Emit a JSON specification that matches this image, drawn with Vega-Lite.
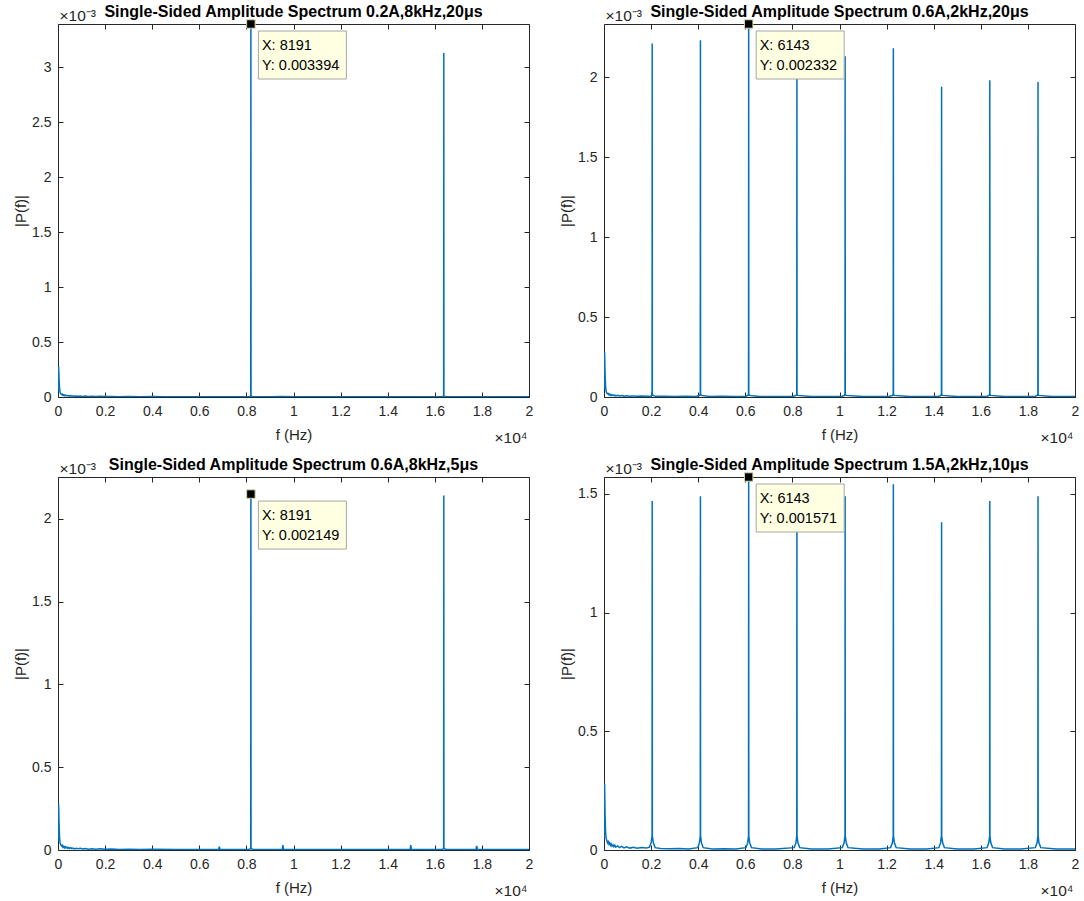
{
  "$schema": "https://vega.github.io/schema/vega-lite/v6.json",
  "background": "#ffffff",
  "padding": {"left": 13, "top": 4, "right": 0, "bottom": 0},
  "datasets": {
    "spectrum": [
      {"p":"A","f":0,"P":0.00005},{"p":"A","f":25,"P":0.00028},{"p":"A","f":45,"P":0.00016},{"p":"A","f":65,"P":0.00008},{"p":"A","f":90,"P":0.00004},{"p":"A","f":120,"P":0.00003},{"p":"A","f":150,"P":0.000022},{"p":"A","f":180,"P":0.000026},{"p":"A","f":210,"P":0.000015},{"p":"A","f":240,"P":0.00002},{"p":"A","f":270,"P":0.000012},{"p":"A","f":300,"P":0.000018},{"p":"A","f":340,"P":0.00001},{"p":"A","f":380,"P":0.000015},{"p":"A","f":420,"P":0.000009},{"p":"A","f":460,"P":0.000013},{"p":"A","f":500,"P":0.000008},{"p":"A","f":540,"P":0.000012},{"p":"A","f":590,"P":0.000007},{"p":"A","f":640,"P":0.000011},{"p":"A","f":700,"P":0.000006},{"p":"A","f":780,"P":0.00001},{"p":"A","f":860,"P":0.000006},{"p":"A","f":950,"P":0.000009},{"p":"A","f":1050,"P":0.000005},{"p":"A","f":1150,"P":0.000008},{"p":"A","f":1300,"P":0.000004},{"p":"A","f":1450,"P":0.000007},{"p":"A","f":1600,"P":0.000004},{"p":"A","f":1800,"P":0.000006},{"p":"A","f":2000,"P":0.000004},{"p":"A","f":2300,"P":0.000005},{"p":"A","f":2600,"P":0.000003},{"p":"A","f":3000,"P":0.000004},{"p":"A","f":3500,"P":0.000003},{"p":"A","f":4000,"P":0.000004},{"p":"A","f":4500,"P":0.000003},{"p":"A","f":5000,"P":0.000003},{"p":"A","f":6000,"P":0.000003},{"p":"A","f":7000,"P":0.000003},{"p":"A","f":8100,"P":0.000003},{"p":"A","f":8185,"P":0.000008},{"p":"A","f":8191,"P":0.003394},{"p":"A","f":8197,"P":0.000008},{"p":"A","f":8300,"P":0.000003},{"p":"A","f":9000,"P":0.000003},{"p":"A","f":9500,"P":0.000005},{"p":"A","f":10000,"P":0.000003},{"p":"A","f":12000,"P":0.000003},{"p":"A","f":14000,"P":0.000003},{"p":"A","f":16300,"P":0.000003},{"p":"A","f":16376,"P":0.000008},{"p":"A","f":16382,"P":0.00313},{"p":"A","f":16388,"P":0.000008},{"p":"A","f":16500,"P":0.000003},{"p":"A","f":18000,"P":0.000003},{"p":"A","f":20000,"P":0.000003},

      {"p":"B","f":0,"P":0.00005},{"p":"B","f":25,"P":0.00028},{"p":"B","f":45,"P":0.00015},{"p":"B","f":65,"P":0.00007},{"p":"B","f":90,"P":0.000035},{"p":"B","f":120,"P":0.000025},{"p":"B","f":150,"P":0.00002},{"p":"B","f":180,"P":0.000022},{"p":"B","f":210,"P":0.000014},{"p":"B","f":240,"P":0.000018},{"p":"B","f":270,"P":0.000011},{"p":"B","f":300,"P":0.000015},{"p":"B","f":340,"P":0.000009},{"p":"B","f":380,"P":0.000013},{"p":"B","f":420,"P":0.000008},{"p":"B","f":460,"P":0.000011},{"p":"B","f":500,"P":0.000007},{"p":"B","f":580,"P":0.00001},{"p":"B","f":660,"P":0.000006},{"p":"B","f":750,"P":0.000009},{"p":"B","f":850,"P":0.000005},{"p":"B","f":950,"P":0.000008},{"p":"B","f":1100,"P":0.000005},{"p":"B","f":1250,"P":0.000007},{"p":"B","f":1400,"P":0.000004},{"p":"B","f":1600,"P":0.000006},{"p":"B","f":1800,"P":0.000004},{"p":"B","f":2000,"P":0.000006},{"p":"B","f":2017,"P":0.00001},{"p":"B","f":2041,"P":0.00002},{"p":"B","f":2047,"P":0.00221},{"p":"B","f":2053,"P":0.00002},{"p":"B","f":2077,"P":0.00001},{"p":"B","f":2200,"P":0.000004},{"p":"B","f":2600,"P":0.000005},{"p":"B","f":3000,"P":0.000003},{"p":"B","f":3500,"P":0.000004},{"p":"B","f":3900,"P":0.000003},{"p":"B","f":4065,"P":0.00001},{"p":"B","f":4089,"P":0.00002},{"p":"B","f":4095,"P":0.00223},{"p":"B","f":4101,"P":0.00002},{"p":"B","f":4125,"P":0.00001},{"p":"B","f":4500,"P":0.000003},{"p":"B","f":5000,"P":0.000004},{"p":"B","f":5500,"P":0.000003},{"p":"B","f":6000,"P":0.000003},{"p":"B","f":6113,"P":0.00001},{"p":"B","f":6137,"P":0.00002},{"p":"B","f":6143,"P":0.002332},{"p":"B","f":6149,"P":0.00002},{"p":"B","f":6173,"P":0.00001},{"p":"B","f":6600,"P":0.000003},{"p":"B","f":7200,"P":0.000003},{"p":"B","f":8000,"P":0.000003},{"p":"B","f":8161,"P":0.00001},{"p":"B","f":8185,"P":0.00002},{"p":"B","f":8191,"P":0.00224},{"p":"B","f":8197,"P":0.00002},{"p":"B","f":8221,"P":0.00001},{"p":"B","f":8800,"P":0.000003},{"p":"B","f":9500,"P":0.000003},{"p":"B","f":10100,"P":0.000003},{"p":"B","f":10209,"P":0.00001},{"p":"B","f":10233,"P":0.00002},{"p":"B","f":10239,"P":0.00213},{"p":"B","f":10245,"P":0.00002},{"p":"B","f":10269,"P":0.00001},{"p":"B","f":11000,"P":0.000003},{"p":"B","f":12100,"P":0.000003},{"p":"B","f":12257,"P":0.00001},{"p":"B","f":12281,"P":0.00002},{"p":"B","f":12287,"P":0.00218},{"p":"B","f":12293,"P":0.00002},{"p":"B","f":12317,"P":0.00001},{"p":"B","f":13000,"P":0.000003},{"p":"B","f":14200,"P":0.000003},{"p":"B","f":14305,"P":0.00001},{"p":"B","f":14329,"P":0.00002},{"p":"B","f":14335,"P":0.00194},{"p":"B","f":14341,"P":0.00002},{"p":"B","f":14365,"P":0.00001},{"p":"B","f":15000,"P":0.000003},{"p":"B","f":16250,"P":0.000003},{"p":"B","f":16352,"P":0.00001},{"p":"B","f":16376,"P":0.00002},{"p":"B","f":16382,"P":0.00198},{"p":"B","f":16388,"P":0.00002},{"p":"B","f":16412,"P":0.00001},{"p":"B","f":17000,"P":0.000003},{"p":"B","f":18300,"P":0.000003},{"p":"B","f":18400,"P":0.00001},{"p":"B","f":18424,"P":0.00002},{"p":"B","f":18430,"P":0.00197},{"p":"B","f":18436,"P":0.00002},{"p":"B","f":18460,"P":0.00001},{"p":"B","f":19000,"P":0.000003},{"p":"B","f":20000,"P":0.000003},

      {"p":"C","f":0,"P":0.00005},{"p":"C","f":25,"P":0.00028},{"p":"C","f":45,"P":0.00016},{"p":"C","f":65,"P":0.00008},{"p":"C","f":90,"P":0.00004},{"p":"C","f":120,"P":0.000032},{"p":"C","f":150,"P":0.000024},{"p":"C","f":180,"P":0.000028},{"p":"C","f":210,"P":0.000017},{"p":"C","f":240,"P":0.000022},{"p":"C","f":270,"P":0.000013},{"p":"C","f":300,"P":0.00002},{"p":"C","f":340,"P":0.000012},{"p":"C","f":380,"P":0.000017},{"p":"C","f":420,"P":0.00001},{"p":"C","f":460,"P":0.000015},{"p":"C","f":500,"P":0.000009},{"p":"C","f":540,"P":0.000014},{"p":"C","f":590,"P":0.000008},{"p":"C","f":640,"P":0.000012},{"p":"C","f":700,"P":0.000007},{"p":"C","f":780,"P":0.000011},{"p":"C","f":860,"P":0.000007},{"p":"C","f":950,"P":0.00001},{"p":"C","f":1050,"P":0.000006},{"p":"C","f":1150,"P":0.000009},{"p":"C","f":1300,"P":0.000005},{"p":"C","f":1450,"P":0.000008},{"p":"C","f":1600,"P":0.000005},{"p":"C","f":1800,"P":0.000007},{"p":"C","f":2000,"P":0.000004},{"p":"C","f":2300,"P":0.000006},{"p":"C","f":2600,"P":0.000003},{"p":"C","f":3000,"P":0.000004},{"p":"C","f":3500,"P":0.000003},{"p":"C","f":4000,"P":0.000004},{"p":"C","f":5000,"P":0.000003},{"p":"C","f":6000,"P":0.000003},{"p":"C","f":6820,"P":0.000003},{"p":"C","f":6850,"P":0.00002},{"p":"C","f":6880,"P":0.000003},{"p":"C","f":8100,"P":0.000003},{"p":"C","f":8185,"P":0.000008},{"p":"C","f":8191,"P":0.002149},{"p":"C","f":8197,"P":0.000008},{"p":"C","f":8300,"P":0.000003},{"p":"C","f":9520,"P":0.000003},{"p":"C","f":9550,"P":0.00003},{"p":"C","f":9580,"P":0.000003},{"p":"C","f":11000,"P":0.000003},{"p":"C","f":13000,"P":0.000003},{"p":"C","f":14950,"P":0.000003},{"p":"C","f":14980,"P":0.00003},{"p":"C","f":15010,"P":0.000003},{"p":"C","f":16300,"P":0.000003},{"p":"C","f":16376,"P":0.000008},{"p":"C","f":16382,"P":0.00214},{"p":"C","f":16388,"P":0.000008},{"p":"C","f":16500,"P":0.000003},{"p":"C","f":17750,"P":0.000003},{"p":"C","f":17780,"P":0.000025},{"p":"C","f":17810,"P":0.000003},{"p":"C","f":20000,"P":0.000003},

      {"p":"D","f":0,"P":0.00005},{"p":"D","f":25,"P":0.00028},{"p":"D","f":45,"P":0.00015},{"p":"D","f":65,"P":0.00008},{"p":"D","f":90,"P":0.00005},{"p":"D","f":120,"P":0.00004},{"p":"D","f":150,"P":0.00003},{"p":"D","f":180,"P":0.000035},{"p":"D","f":210,"P":0.000025},{"p":"D","f":240,"P":0.00003},{"p":"D","f":270,"P":0.00002},{"p":"D","f":300,"P":0.000026},{"p":"D","f":340,"P":0.000016},{"p":"D","f":380,"P":0.000022},{"p":"D","f":420,"P":0.000014},{"p":"D","f":460,"P":0.00002},{"p":"D","f":500,"P":0.000012},{"p":"D","f":580,"P":0.000017},{"p":"D","f":660,"P":0.00001},{"p":"D","f":750,"P":0.000015},{"p":"D","f":850,"P":0.000009},{"p":"D","f":950,"P":0.000013},{"p":"D","f":1100,"P":0.000008},{"p":"D","f":1250,"P":0.000011},{"p":"D","f":1400,"P":0.000007},{"p":"D","f":1600,"P":0.00001},{"p":"D","f":1800,"P":0.000008},{"p":"D","f":1930,"P":0.000012},{"p":"D","f":2000,"P":0.00003},{"p":"D","f":2041,"P":0.00006},{"p":"D","f":2047,"P":0.00147},{"p":"D","f":2053,"P":0.00006},{"p":"D","f":2095,"P":0.00003},{"p":"D","f":2170,"P":0.00001},{"p":"D","f":2400,"P":0.000006},{"p":"D","f":2800,"P":0.000005},{"p":"D","f":3200,"P":0.000006},{"p":"D","f":3600,"P":0.000004},{"p":"D","f":3980,"P":0.00001},{"p":"D","f":4050,"P":0.00003},{"p":"D","f":4089,"P":0.00006},{"p":"D","f":4095,"P":0.00149},{"p":"D","f":4101,"P":0.00006},{"p":"D","f":4140,"P":0.00003},{"p":"D","f":4210,"P":0.00001},{"p":"D","f":4600,"P":0.000004},{"p":"D","f":5100,"P":0.000005},{"p":"D","f":5600,"P":0.000004},{"p":"D","f":6030,"P":0.00001},{"p":"D","f":6100,"P":0.00003},{"p":"D","f":6137,"P":0.00006},{"p":"D","f":6143,"P":0.001571},{"p":"D","f":6149,"P":0.00006},{"p":"D","f":6185,"P":0.00003},{"p":"D","f":6260,"P":0.00001},{"p":"D","f":6700,"P":0.000004},{"p":"D","f":7300,"P":0.000004},{"p":"D","f":8075,"P":0.00001},{"p":"D","f":8150,"P":0.00003},{"p":"D","f":8185,"P":0.00006},{"p":"D","f":8191,"P":0.00145},{"p":"D","f":8197,"P":0.00006},{"p":"D","f":8235,"P":0.00003},{"p":"D","f":8310,"P":0.00001},{"p":"D","f":8800,"P":0.000004},{"p":"D","f":9500,"P":0.000004},{"p":"D","f":10120,"P":0.00001},{"p":"D","f":10195,"P":0.00003},{"p":"D","f":10233,"P":0.00006},{"p":"D","f":10239,"P":0.00149},{"p":"D","f":10245,"P":0.00006},{"p":"D","f":10285,"P":0.00003},{"p":"D","f":10360,"P":0.00001},{"p":"D","f":11000,"P":0.000004},{"p":"D","f":11700,"P":0.000004},{"p":"D","f":12170,"P":0.00001},{"p":"D","f":12245,"P":0.00003},{"p":"D","f":12281,"P":0.00006},{"p":"D","f":12287,"P":0.00154},{"p":"D","f":12293,"P":0.00006},{"p":"D","f":12330,"P":0.00003},{"p":"D","f":12405,"P":0.00001},{"p":"D","f":13000,"P":0.000004},{"p":"D","f":13700,"P":0.000004},{"p":"D","f":14220,"P":0.00001},{"p":"D","f":14290,"P":0.00003},{"p":"D","f":14329,"P":0.00006},{"p":"D","f":14335,"P":0.00138},{"p":"D","f":14341,"P":0.00006},{"p":"D","f":14380,"P":0.00003},{"p":"D","f":14455,"P":0.00001},{"p":"D","f":15000,"P":0.000004},{"p":"D","f":15700,"P":0.000004},{"p":"D","f":16265,"P":0.00001},{"p":"D","f":16340,"P":0.00003},{"p":"D","f":16376,"P":0.00006},{"p":"D","f":16382,"P":0.00147},{"p":"D","f":16388,"P":0.00006},{"p":"D","f":16425,"P":0.00003},{"p":"D","f":16500,"P":0.00001},{"p":"D","f":17000,"P":0.000004},{"p":"D","f":17700,"P":0.000004},{"p":"D","f":18315,"P":0.00001},{"p":"D","f":18390,"P":0.00003},{"p":"D","f":18424,"P":0.00006},{"p":"D","f":18430,"P":0.00149},{"p":"D","f":18436,"P":0.00006},{"p":"D","f":18470,"P":0.00003},{"p":"D","f":18545,"P":0.00001},{"p":"D","f":19200,"P":0.000004},{"p":"D","f":20000,"P":0.000004}
    ],
    "tips": [
      {"p":"A","f":8191,"P":0.003394},
      {"p":"B","f":6143,"P":0.002332},
      {"p":"C","f":8191,"P":0.002149},
      {"p":"D","f":6143,"P":0.001571}
    ]
  },
  "bounds": "flush",
  "columns": 2,
  "spacing": {"row": 80, "column": 75},
  "concat": [
    {
      "width": 471, "height": 373,
      "title": {"text": "Single-Sided Amplitude Spectrum 0.2A,8kHz,20μs"},
      "layer": [
        {
          "data": {"name": "spectrum"},
          "transform": [{"filter": "datum.p === 'A'"}],
          "mark": {"type": "line", "color": "#0072BD", "strokeWidth": 1.5, "clip": true},
          "encoding": {
            "x": {"field": "f", "type": "quantitative", "scale": {"domain": [0, 20000], "nice": false, "zero": false},
                  "axis": {"orient": "bottom", "values": [0,2000,4000,6000,8000,10000,12000,14000,16000,18000,20000], "labelExpr": "datum.value / 10000", "labelPadding": 12, "title": "f (Hz)", "titleX": 235.5, "titleY": 42, "titleAlign": "center", "titleBaseline": "alphabetic"}},
            "y": {"field": "P", "type": "quantitative", "scale": {"domain": [0, 0.003394], "nice": false},
                  "axis": {"orient": "left", "values": [0,0.0005,0.001,0.0015,0.002,0.0025,0.003], "labelExpr": "round(datum.value * 10000) / 10", "labelPadding": 12, "title": "|P(f)|", "titleAngle": 270, "titleX": -33, "titleY": 186.5, "titleAlign": "center", "titleBaseline": "alphabetic"}}
          }
        },
        {
          "data": {"name": "tips"},
          "transform": [{"filter": "datum.p === 'A'"}],
          "mark": {"type": "point", "shape": "M0.75,0.7H9.55V5.5H0.75Z", "size": 400, "filled": true, "fill": "#FFFFE1", "stroke": "#A6A6A6", "strokeWidth": 1, "opacity": 1},
          "encoding": {
            "x": {"field": "f", "type": "quantitative", "scale": {"domain": [0, 20000], "nice": false, "zero": false},
                  "axis": {"orient": "top", "values": [0,2000,4000,6000,8000,10000,12000,14000,16000,18000,20000], "labels": false, "title": "×10⁴", "titleX": 469, "titleY": 418, "titleAlign": "right", "titleBaseline": "alphabetic", "titleFontSize": 15.5}},
            "y": {"field": "P", "type": "quantitative", "scale": {"domain": [0, 0.003394], "nice": false},
                  "axis": {"orient": "right", "values": [0,0.0005,0.001,0.0015,0.002,0.0025,0.003], "labels": false, "title": "×10⁻³", "titleAngle": 0, "titleX": -470, "titleY": -4, "titleAlign": "left", "titleBaseline": "alphabetic", "titleFontSize": 15.5}}
          }
        },
        {
          "data": {"name": "tips"},
          "transform": [{"filter": "datum.p === 'A'"}],
          "mark": {"type": "point", "shape": "square", "size": 72, "filled": true, "fill": "#000000", "stroke": "#D8D8B0", "strokeWidth": 1, "opacity": 1},
          "encoding": {
            "x": {"field": "f", "type": "quantitative", "scale": {"domain": [0, 20000], "nice": false, "zero": false}, "axis": null},
            "y": {"field": "P", "type": "quantitative", "scale": {"domain": [0, 0.003394], "nice": false}, "axis": null}
          }
        },
        {
          "data": {"name": "tips"},
          "transform": [{"filter": "datum.p === 'A'"}, {"calculate": "'X: ' + datum.f", "as": "xl"}, {"calculate": "'Y: ' + format(datum.P, '.6f')", "as": "yl"}],
          "layer": [
            {"mark": {"type": "text", "align": "left", "baseline": "middle", "dx": 11, "dy": 22, "fontSize": 14.5, "font": "Liberation Sans", "color": "#000000"},
             "encoding": {"x": {"field": "f", "type": "quantitative", "scale": {"domain": [0, 20000], "nice": false, "zero": false}, "axis": null}, "y": {"field": "P", "type": "quantitative", "scale": {"domain": [0, 0.003394], "nice": false}, "axis": null}, "text": {"field": "xl"}}},
            {"mark": {"type": "text", "align": "left", "baseline": "middle", "dx": 11, "dy": 42, "fontSize": 14.5, "font": "Liberation Sans", "color": "#000000"},
             "encoding": {"x": {"field": "f", "type": "quantitative", "scale": {"domain": [0, 20000], "nice": false, "zero": false}, "axis": null}, "y": {"field": "P", "type": "quantitative", "scale": {"domain": [0, 0.003394], "nice": false}, "axis": null}, "text": {"field": "yl"}}}
          ]
        }
      ],
      "resolve": {"axis": {"x": "independent", "y": "independent"}}
    },
    {
      "width": 471, "height": 373,
      "title": {"text": "Single-Sided Amplitude Spectrum 0.6A,2kHz,20μs"},
      "layer": [
        {
          "data": {"name": "spectrum"},
          "transform": [{"filter": "datum.p === 'B'"}],
          "mark": {"type": "line", "color": "#0072BD", "strokeWidth": 1.5, "clip": true},
          "encoding": {
            "x": {"field": "f", "type": "quantitative", "scale": {"domain": [0, 20000], "nice": false, "zero": false},
                  "axis": {"orient": "bottom", "values": [0,2000,4000,6000,8000,10000,12000,14000,16000,18000,20000], "labelExpr": "datum.value / 10000", "labelPadding": 12, "title": "f (Hz)", "titleX": 235.5, "titleY": 42, "titleAlign": "center", "titleBaseline": "alphabetic"}},
            "y": {"field": "P", "type": "quantitative", "scale": {"domain": [0, 0.002332], "nice": false},
                  "axis": {"orient": "left", "values": [0,0.0005,0.001,0.0015,0.002], "labelExpr": "round(datum.value * 10000) / 10", "labelPadding": 12, "title": "|P(f)|", "titleAngle": 270, "titleX": -33, "titleY": 186.5, "titleAlign": "center", "titleBaseline": "alphabetic"}}
          }
        },
        {
          "data": {"name": "tips"},
          "transform": [{"filter": "datum.p === 'B'"}],
          "mark": {"type": "point", "shape": "M0.75,0.7H9.55V5.5H0.75Z", "size": 400, "filled": true, "fill": "#FFFFE1", "stroke": "#A6A6A6", "strokeWidth": 1, "opacity": 1},
          "encoding": {
            "x": {"field": "f", "type": "quantitative", "scale": {"domain": [0, 20000], "nice": false, "zero": false},
                  "axis": {"orient": "top", "values": [0,2000,4000,6000,8000,10000,12000,14000,16000,18000,20000], "labels": false, "title": "×10⁴", "titleX": 469, "titleY": 418, "titleAlign": "right", "titleBaseline": "alphabetic", "titleFontSize": 15.5}},
            "y": {"field": "P", "type": "quantitative", "scale": {"domain": [0, 0.002332], "nice": false},
                  "axis": {"orient": "right", "values": [0,0.0005,0.001,0.0015,0.002], "labels": false, "title": "×10⁻³", "titleAngle": 0, "titleX": -470, "titleY": -4, "titleAlign": "left", "titleBaseline": "alphabetic", "titleFontSize": 15.5}}
          }
        },
        {
          "data": {"name": "tips"},
          "transform": [{"filter": "datum.p === 'B'"}],
          "mark": {"type": "point", "shape": "square", "size": 72, "filled": true, "fill": "#000000", "stroke": "#D8D8B0", "strokeWidth": 1, "opacity": 1},
          "encoding": {
            "x": {"field": "f", "type": "quantitative", "scale": {"domain": [0, 20000], "nice": false, "zero": false}, "axis": null},
            "y": {"field": "P", "type": "quantitative", "scale": {"domain": [0, 0.002332], "nice": false}, "axis": null}
          }
        },
        {
          "data": {"name": "tips"},
          "transform": [{"filter": "datum.p === 'B'"}, {"calculate": "'X: ' + datum.f", "as": "xl"}, {"calculate": "'Y: ' + format(datum.P, '.6f')", "as": "yl"}],
          "layer": [
            {"mark": {"type": "text", "align": "left", "baseline": "middle", "dx": 11, "dy": 22, "fontSize": 14.5, "font": "Liberation Sans", "color": "#000000"},
             "encoding": {"x": {"field": "f", "type": "quantitative", "scale": {"domain": [0, 20000], "nice": false, "zero": false}, "axis": null}, "y": {"field": "P", "type": "quantitative", "scale": {"domain": [0, 0.002332], "nice": false}, "axis": null}, "text": {"field": "xl"}}},
            {"mark": {"type": "text", "align": "left", "baseline": "middle", "dx": 11, "dy": 42, "fontSize": 14.5, "font": "Liberation Sans", "color": "#000000"},
             "encoding": {"x": {"field": "f", "type": "quantitative", "scale": {"domain": [0, 20000], "nice": false, "zero": false}, "axis": null}, "y": {"field": "P", "type": "quantitative", "scale": {"domain": [0, 0.002332], "nice": false}, "axis": null}, "text": {"field": "yl"}}}
          ]
        }
      ],
      "resolve": {"axis": {"x": "independent", "y": "independent"}}
    },
    {
      "width": 471, "height": 373,
      "title": {"text": "Single-Sided Amplitude Spectrum 0.6A,8kHz,5μs"},
      "layer": [
        {
          "data": {"name": "spectrum"},
          "transform": [{"filter": "datum.p === 'C'"}],
          "mark": {"type": "line", "color": "#0072BD", "strokeWidth": 1.5, "clip": true},
          "encoding": {
            "x": {"field": "f", "type": "quantitative", "scale": {"domain": [0, 20000], "nice": false, "zero": false},
                  "axis": {"orient": "bottom", "values": [0,2000,4000,6000,8000,10000,12000,14000,16000,18000,20000], "labelExpr": "datum.value / 10000", "labelPadding": 12, "title": "f (Hz)", "titleX": 235.5, "titleY": 42, "titleAlign": "center", "titleBaseline": "alphabetic"}},
            "y": {"field": "P", "type": "quantitative", "scale": {"domain": [0, 0.002252], "nice": false},
                  "axis": {"orient": "left", "values": [0,0.0005,0.001,0.0015,0.002], "labelExpr": "round(datum.value * 10000) / 10", "labelPadding": 12, "title": "|P(f)|", "titleAngle": 270, "titleX": -33, "titleY": 186.5, "titleAlign": "center", "titleBaseline": "alphabetic"}}
          }
        },
        {
          "data": {"name": "tips"},
          "transform": [{"filter": "datum.p === 'C'"}],
          "mark": {"type": "point", "shape": "M0.75,0.7H9.55V5.5H0.75Z", "size": 400, "filled": true, "fill": "#FFFFE1", "stroke": "#A6A6A6", "strokeWidth": 1, "opacity": 1},
          "encoding": {
            "x": {"field": "f", "type": "quantitative", "scale": {"domain": [0, 20000], "nice": false, "zero": false},
                  "axis": {"orient": "top", "values": [0,2000,4000,6000,8000,10000,12000,14000,16000,18000,20000], "labels": false, "title": "×10⁴", "titleX": 469, "titleY": 418, "titleAlign": "right", "titleBaseline": "alphabetic", "titleFontSize": 15.5}},
            "y": {"field": "P", "type": "quantitative", "scale": {"domain": [0, 0.002252], "nice": false},
                  "axis": {"orient": "right", "values": [0,0.0005,0.001,0.0015,0.002], "labels": false, "title": "×10⁻³", "titleAngle": 0, "titleX": -470, "titleY": -4, "titleAlign": "left", "titleBaseline": "alphabetic", "titleFontSize": 15.5}}
          }
        },
        {
          "data": {"name": "tips"},
          "transform": [{"filter": "datum.p === 'C'"}],
          "mark": {"type": "point", "shape": "square", "size": 72, "filled": true, "fill": "#000000", "stroke": "#D8D8B0", "strokeWidth": 1, "opacity": 1},
          "encoding": {
            "x": {"field": "f", "type": "quantitative", "scale": {"domain": [0, 20000], "nice": false, "zero": false}, "axis": null},
            "y": {"field": "P", "type": "quantitative", "scale": {"domain": [0, 0.002252], "nice": false}, "axis": null}
          }
        },
        {
          "data": {"name": "tips"},
          "transform": [{"filter": "datum.p === 'C'"}, {"calculate": "'X: ' + datum.f", "as": "xl"}, {"calculate": "'Y: ' + format(datum.P, '.6f')", "as": "yl"}],
          "layer": [
            {"mark": {"type": "text", "align": "left", "baseline": "middle", "dx": 11, "dy": 22, "fontSize": 14.5, "font": "Liberation Sans", "color": "#000000"},
             "encoding": {"x": {"field": "f", "type": "quantitative", "scale": {"domain": [0, 20000], "nice": false, "zero": false}, "axis": null}, "y": {"field": "P", "type": "quantitative", "scale": {"domain": [0, 0.002252], "nice": false}, "axis": null}, "text": {"field": "xl"}}},
            {"mark": {"type": "text", "align": "left", "baseline": "middle", "dx": 11, "dy": 42, "fontSize": 14.5, "font": "Liberation Sans", "color": "#000000"},
             "encoding": {"x": {"field": "f", "type": "quantitative", "scale": {"domain": [0, 20000], "nice": false, "zero": false}, "axis": null}, "y": {"field": "P", "type": "quantitative", "scale": {"domain": [0, 0.002252], "nice": false}, "axis": null}, "text": {"field": "yl"}}}
          ]
        }
      ],
      "resolve": {"axis": {"x": "independent", "y": "independent"}}
    },
    {
      "width": 471, "height": 373,
      "title": {"text": "Single-Sided Amplitude Spectrum 1.5A,2kHz,10μs"},
      "layer": [
        {
          "data": {"name": "spectrum"},
          "transform": [{"filter": "datum.p === 'D'"}],
          "mark": {"type": "line", "color": "#0072BD", "strokeWidth": 1.5, "clip": true},
          "encoding": {
            "x": {"field": "f", "type": "quantitative", "scale": {"domain": [0, 20000], "nice": false, "zero": false},
                  "axis": {"orient": "bottom", "values": [0,2000,4000,6000,8000,10000,12000,14000,16000,18000,20000], "labelExpr": "datum.value / 10000", "labelPadding": 12, "title": "f (Hz)", "titleX": 235.5, "titleY": 42, "titleAlign": "center", "titleBaseline": "alphabetic"}},
            "y": {"field": "P", "type": "quantitative", "scale": {"domain": [0, 0.001571], "nice": false},
                  "axis": {"orient": "left", "values": [0,0.0005,0.001,0.0015], "labelExpr": "round(datum.value * 10000) / 10", "labelPadding": 12, "title": "|P(f)|", "titleAngle": 270, "titleX": -33, "titleY": 186.5, "titleAlign": "center", "titleBaseline": "alphabetic"}}
          }
        },
        {
          "data": {"name": "tips"},
          "transform": [{"filter": "datum.p === 'D'"}],
          "mark": {"type": "point", "shape": "M0.75,0.7H9.55V5.5H0.75Z", "size": 400, "filled": true, "fill": "#FFFFE1", "stroke": "#A6A6A6", "strokeWidth": 1, "opacity": 1},
          "encoding": {
            "x": {"field": "f", "type": "quantitative", "scale": {"domain": [0, 20000], "nice": false, "zero": false},
                  "axis": {"orient": "top", "values": [0,2000,4000,6000,8000,10000,12000,14000,16000,18000,20000], "labels": false, "title": "×10⁴", "titleX": 469, "titleY": 418, "titleAlign": "right", "titleBaseline": "alphabetic", "titleFontSize": 15.5}},
            "y": {"field": "P", "type": "quantitative", "scale": {"domain": [0, 0.001571], "nice": false},
                  "axis": {"orient": "right", "values": [0,0.0005,0.001,0.0015], "labels": false, "title": "×10⁻³", "titleAngle": 0, "titleX": -470, "titleY": -4, "titleAlign": "left", "titleBaseline": "alphabetic", "titleFontSize": 15.5}}
          }
        },
        {
          "data": {"name": "tips"},
          "transform": [{"filter": "datum.p === 'D'"}],
          "mark": {"type": "point", "shape": "square", "size": 72, "filled": true, "fill": "#000000", "stroke": "#D8D8B0", "strokeWidth": 1, "opacity": 1},
          "encoding": {
            "x": {"field": "f", "type": "quantitative", "scale": {"domain": [0, 20000], "nice": false, "zero": false}, "axis": null},
            "y": {"field": "P", "type": "quantitative", "scale": {"domain": [0, 0.001571], "nice": false}, "axis": null}
          }
        },
        {
          "data": {"name": "tips"},
          "transform": [{"filter": "datum.p === 'D'"}, {"calculate": "'X: ' + datum.f", "as": "xl"}, {"calculate": "'Y: ' + format(datum.P, '.6f')", "as": "yl"}],
          "layer": [
            {"mark": {"type": "text", "align": "left", "baseline": "middle", "dx": 11, "dy": 22, "fontSize": 14.5, "font": "Liberation Sans", "color": "#000000"},
             "encoding": {"x": {"field": "f", "type": "quantitative", "scale": {"domain": [0, 20000], "nice": false, "zero": false}, "axis": null}, "y": {"field": "P", "type": "quantitative", "scale": {"domain": [0, 0.001571], "nice": false}, "axis": null}, "text": {"field": "xl"}}},
            {"mark": {"type": "text", "align": "left", "baseline": "middle", "dx": 11, "dy": 42, "fontSize": 14.5, "font": "Liberation Sans", "color": "#000000"},
             "encoding": {"x": {"field": "f", "type": "quantitative", "scale": {"domain": [0, 20000], "nice": false, "zero": false}, "axis": null}, "y": {"field": "P", "type": "quantitative", "scale": {"domain": [0, 0.001571], "nice": false}, "axis": null}, "text": {"field": "yl"}}}
          ]
        }
      ],
      "resolve": {"axis": {"x": "independent", "y": "independent"}}
    }
  ],
  "config": {
    "font": "Liberation Sans",
    "view": {"stroke": null},
    "axis": {
      "grid": false,
      "domainColor": "#262626", "domainWidth": 1,
      "tickColor": "#262626", "tickWidth": 1, "tickSize": -5,
      "labelColor": "#262626", "labelFont": "Liberation Sans", "labelFontSize": 14,
      "labelFlush": false, "labelOverlap": false,
      "titleColor": "#262626", "titleFont": "Liberation Sans", "titleFontSize": 15, "titleFontWeight": "normal"
    },
    "title": {"font": "Liberation Sans", "fontSize": 16, "fontWeight": "bold", "color": "#000000", "frame": "group", "anchor": "middle", "offset": -12}
  }
}
